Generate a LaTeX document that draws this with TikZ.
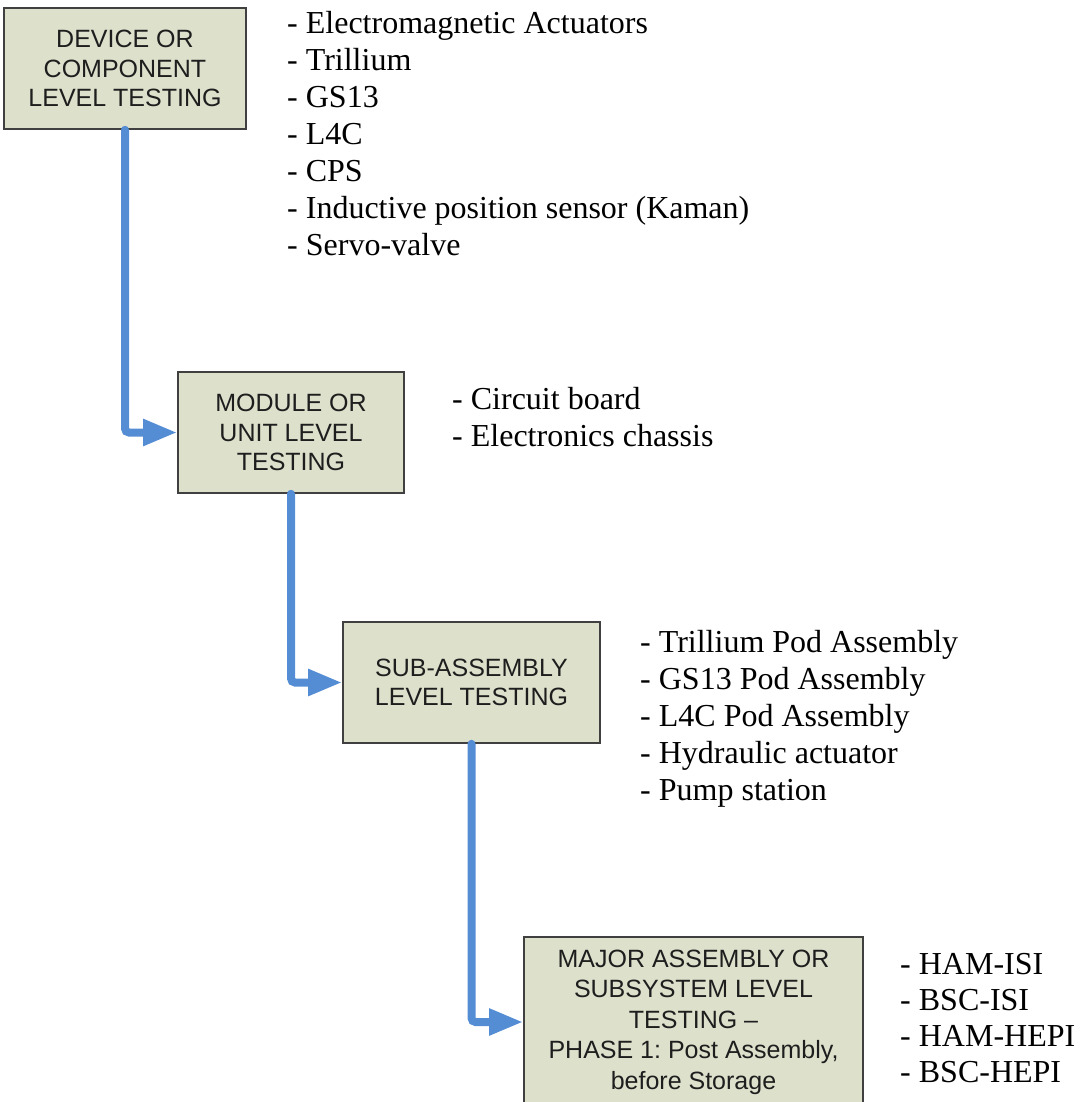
\documentclass[tikz,border=0pt]{standalone}
\usepackage{fontspec}
\setmainfont{Liberation Serif}
\newfontfamily\boxfont{Liberation Sans}
\usetikzlibrary{arrows.meta}
\definecolor{boxfill}{RGB}{221,224,203}
\definecolor{boxline}{RGB}{64,64,64}
\definecolor{flow}{RGB}{84,141,212}
\definecolor{boxtext}{RGB}{30,30,30}
\frenchspacing
\tikzset{
  levelbox/.style={draw=boxline, line width=1.6pt, fill=boxfill, rectangle, inner sep=0pt,
    align=center, text=boxtext, font=\boxfont\fontsize{25}{29.5}\selectfont},
  itemlist/.style={anchor=north west, inner sep=0pt, align=left,
    font=\fontsize{32}{37}\selectfont},
  flowline/.style={draw=flow, line width=8pt, line cap=round, rounded corners=4pt,
    -{Triangle[length=34pt,width=25pt]}}
}
\begin{document}
\begin{tikzpicture}[x=1pt,y=-1pt]
\useasboundingbox (0,0) rectangle (1079,1102);
\clip (0,0) rectangle (1079,1102);
\node[levelbox, minimum width=242pt, minimum height=121pt] (b1) at (125,68.5)
  {DEVICE OR\\COMPONENT\\LEVEL TESTING};
\node[levelbox, minimum width=226pt, minimum height=121pt] (b2) at (291,432.5)
  {MODULE OR\\UNIT LEVEL\\TESTING};
\node[levelbox, minimum width=257pt, minimum height=121pt] (b3) at (471.5,682.5)
  {SUB-ASSEMBLY\\LEVEL TESTING};
\node[levelbox, minimum width=339pt, minimum height=170pt, font=\boxfont\fontsize{25}{30.5}\selectfont] (b4) at (693.5,1022)
  {MAJOR ASSEMBLY OR\\SUBSYSTEM LEVEL\\TESTING \textendash\\PHASE 1: Post Assembly,\\before Storage};
\coordinate (b4next) at (693.5,1130);

\draw[flowline] (b1.south) |- (b2.west);
\draw[flowline] (b2.south) |- (b3.west);
\draw[flowline] (b3.south) |- (b4.west);
\draw[draw=flow, line width=8pt, line cap=round] (b4.south) -- (b4next);

\node[itemlist] (l1) at (287,11)
  {- Electromagnetic Actuators\\- Trillium\\- GS13\\- L4C\\- CPS\\- Inductive position sensor (Kaman)\\- Servo-valve};
\node[itemlist] (l2) at (452,387)
  {- Circuit board\\- Electronics chassis};
\node[itemlist] (l3) at (640,630)
  {- Trillium Pod Assembly\\- GS13 Pod Assembly\\- L4C Pod Assembly\\- Hydraulic actuator\\- Pump station};
\node[itemlist, font=\fontsize{32}{36}\selectfont] (l4) at (900,953)
  {- HAM-ISI\\- BSC-ISI\\- HAM-HEPI\\- BSC-HEPI};
\end{tikzpicture}
\end{document}
